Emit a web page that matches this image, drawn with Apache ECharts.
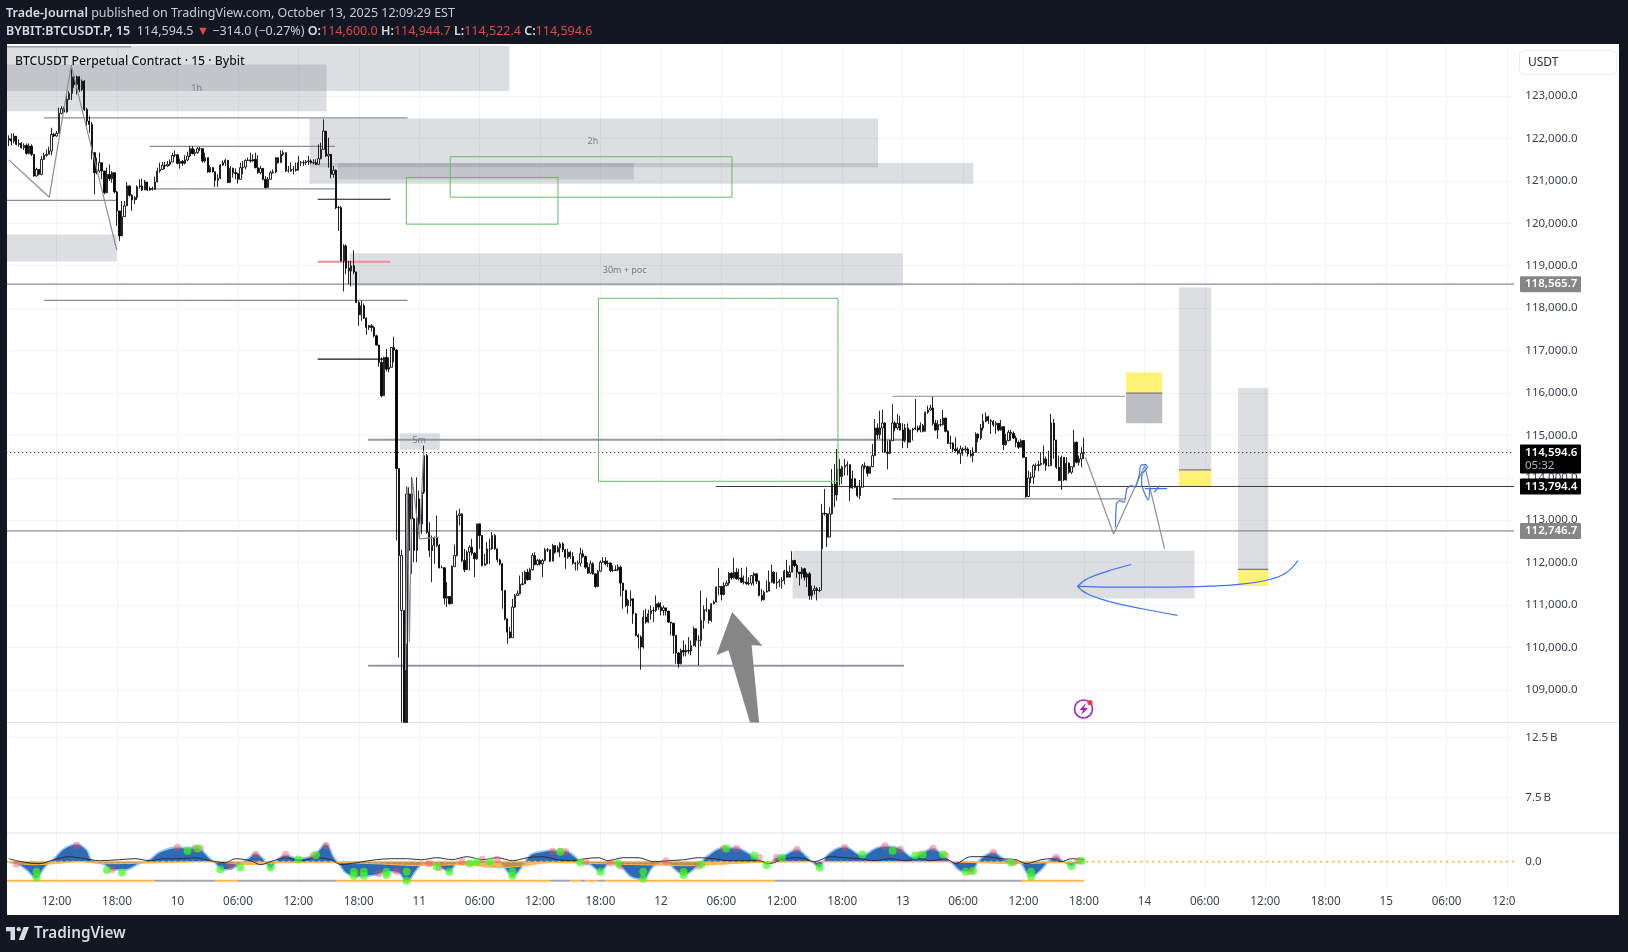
<!DOCTYPE html>
<html>
<head>
<meta charset="utf-8">
<title>BTCUSDT Perpetual Contract</title>
<script src="https://cdn.jsdelivr.net/npm/echarts@6/dist/echarts.min.js"></script>
<style>
html, body { margin: 0; padding: 0; background: #131722; }
#main { width: 1628px; height: 952px; }
</style>
</head>
<body>
<div id="main"></div>
<script>
// 15 minute candles, oct 9 07:15 -> oct 13 18:00
const closes = [
121995,121940,122058,121862,121885,121783,121838,121650,121822,121626,121116,121273,121155,121508,121603,121626,121705,122097,122058,122121,
122592,122702,122623,122922,123063,123455,123275,123455,123157,123353,122686,122411,122333,121666,121195,121234,121430,121234,120723,121155,
121053,121195,120739,120292,119703,120158,120410,120880,120661,120551,120606,120865,120880,120786,120975,120786,120818,120802,120975,121234,
121273,121367,121352,121391,121446,121603,121618,121414,121461,121414,121493,121587,121760,121642,121666,121760,121760,121470,121548,121210,
121312,121218,121014,121061,121375,121430,121485,120959,121297,121195,121171,121038,121312,121328,121485,121493,121470,121509,121312,121195,
121297,121038,120842,121038,121195,121210,121548,121430,121627,121666,121234,121234,121273,121273,121250,121430,121430,121430,121454,121470,
121430,121430,121391,121524,121744,122176,121587,121627,121155,121250,120370,120370,119115,119468,118942,118879,118997,118855,118133,117843,
118055,117764,117545,117584,117545,117348,117128,116720,115935,116838,116563,116603,117073,117011,114216,112167,112167,108230,113619,113619,
113031,112285,113054,112913,113659,114522,112717,112285,112403,112583,112403,111877,111877,111162,111202,111029,111908,112167,113109,113149,
112050,111830,112246,112363,112222,112089,112913,112638,111932,111971,112324,112324,112638,112324,112065,111971,111343,110676,110362,110228,
110950,111225,111264,111484,111500,111775,111594,111830,112167,111955,112050,111971,112050,112301,112301,112034,112403,112246,112348,112442,
112301,112128,112246,112144,111987,111971,111987,112206,112144,111892,111751,111971,111736,111437,111798,112010,112034,111971,111987,111814,
111814,111830,111892,111516,111343,110990,111107,111146,110793,110283,110243,110008,110714,110597,110793,110871,110871,111028,110950,110871,
110934,110856,110597,110573,110283,109867,109616,109930,109890,109930,109914,110047,110440,110165,110165,110636,110887,110887,110636,111028,
111068,111421,111437,111248,111460,111515,111751,111641,111774,111617,111641,111539,111539,111499,111515,111696,111735,111562,111225,111123,
111303,111327,111539,111774,111515,111539,111562,111578,111798,111656,111774,112049,111931,111774,111735,111853,111656,111735,111225,111342,
111382,111342,111342,113164,113149,112599,113149,113855,113596,114208,114028,114248,114287,114310,113761,113973,113777,113580,113777,114279,
114263,114106,114263,114522,115174,115017,115174,115292,114601,114577,114876,115292,115174,115284,115127,114876,115174,114836,115127,115150,
115174,115127,115229,115095,115543,115598,115645,115284,115127,115252,115252,115409,115095,114813,114813,114679,114640,114577,114679,114656,
114679,114561,114522,114601,115032,114938,115174,115331,115441,115347,115331,115252,115284,115127,115205,114781,114876,115072,115048,114938,
114836,114719,114876,114483,113557,113996,114012,114287,114287,114310,114342,114444,114287,114287,115292,114891,114248,113934,114483,113949,
114342,114130,114263,114836,114365,114444,114577,114594.6
];
const highs = [
122074,122121,122121,122058,121980,121917,121885,121885,121885,121862,121626,121312,121273,121587,121666,121744,121807,122254,122137,122176,
122725,122765,122749,123063,123118,123722,123510,123487,123471,123392,123377,122725,122529,122388,121587,121548,121666,121391,121234,121312,
121391,121234,121195,120763,120292,120527,120527,120975,120896,120684,120645,120896,121038,121053,121022,120975,120865,120865,121100,121312,
121430,121446,121446,121469,121508,121666,121720,121587,121524,121493,121603,121689,121823,121823,121744,121799,121799,121768,121666,121548,
121367,121328,121218,121155,121391,121485,121524,121485,121352,121312,121297,121195,121430,121470,121509,121548,121666,121627,121666,121611,
121352,121250,121116,121093,121234,121273,121564,121548,121721,121721,121666,121352,121430,121352,121430,121587,121470,121485,121493,121587,
121509,121509,121509,121862,121901,122451,122176,122019,121603,121352,121273,120410,120410,119507,119507,119115,119115,119366,118840,118173,
118173,118110,117780,117607,117623,117584,117372,117136,116838,116854,117034,116838,117073,117325,117030,114216,112300,110872,113792,113776,
114012,113054,114012,113698,113698,114758,114561,112952,112638,112615,113109,112442,111932,111892,111539,111202,111932,112426,113227,113266,
113149,112324,112285,112403,112560,112246,112913,112913,112638,112206,112481,112560,112717,112677,112324,112089,111987,111343,110637,110480,
111147,111264,111343,111696,111775,111814,111853,111877,112222,112246,112089,112089,112089,112348,112348,112301,112442,112403,112403,112481,
112481,112324,112324,112269,112246,112010,112050,112348,112301,112167,112010,112050,112010,111736,111830,112050,112128,112128,112050,112010,
111932,111932,111955,111932,111484,111359,111147,111342,110989,110809,110322,110283,110871,110911,110887,110989,110950,111225,111068,111068,
110989,110934,110832,110597,110479,110283,109890,109969,110165,110071,110243,110165,110495,110400,110283,111342,110989,111170,110871,111044,
111107,111437,111876,111437,111539,111578,111774,111774,112112,111876,111853,111876,111696,111892,111656,111696,111774,111751,111578,111382,
111342,111578,111813,111955,111798,111774,111617,111656,111829,112065,111931,112269,112065,111970,111774,111892,111876,111774,111774,111460,
111460,111421,111421,113384,113737,113164,113306,114208,114326,114679,114444,114287,114444,114389,114310,114169,113996,113816,113949,114326,
114365,114287,114263,114797,115386,115284,115582,115598,115307,114876,114891,115739,115331,115503,115464,115284,115268,115284,115127,115174,
115857,115229,115307,115268,115566,115700,115723,115912,115362,115362,115386,115598,115409,115127,114993,114836,114954,114719,114758,114719,
114758,114719,114656,114719,115072,115048,115268,115503,115543,115464,115386,115362,115331,115268,115362,115205,115032,115127,115127,115095,
114993,114876,114915,114758,114483,114169,114130,114326,114342,114404,114601,114758,114499,114640,115503,115386,114891,114522,114522,114483,
114483,114365,114263,115127,114860,114522,114719,114944.7
];
const lows = [
121823,121838,121885,121838,121807,121760,121728,121618,121626,121587,121100,121100,121132,121132,121493,121571,121626,121603,122035,122042,
122121,122568,122607,122607,122906,122906,123196,123039,123094,123118,122647,122294,122137,121508,120684,121155,121195,121038,120684,120708,
120998,120959,120708,119938,119585,119703,120158,120410,120629,120292,120449,120551,120818,120763,120786,120763,120771,120771,120786,120975,
121195,121257,121273,121328,121352,121446,121563,121391,121289,121352,121391,121470,121564,121627,121587,121642,121705,121430,121430,121195,
121195,121195,120857,120857,121038,121352,121352,120951,120959,121077,121038,120936,121038,121155,121273,121470,121430,121454,121297,121171,
121155,121014,120826,120842,121038,121171,121179,121407,121430,121587,121210,121195,121218,121155,121218,121250,121352,121352,121375,121375,
121407,121391,121375,121391,121509,121744,121564,121312,121061,121077,120331,119821,119099,118392,118801,118565,118510,118801,118118,117584,
117701,117741,117372,117482,117450,117309,117113,116618,115896,115935,116508,116485,116603,116720,112520,109765,108230,108230,110087,111735,
111735,112010,112010,112677,112677,113619,112677,112128,111539,111971,112363,111861,111877,111013,110950,111013,111029,111892,112144,112874,
112010,111775,111830,111814,112167,111657,112065,112324,111908,111932,111955,111971,112301,112301,112010,111932,110911,110637,110087,110205,
110228,110935,111225,111249,111461,111500,111578,111594,111814,111932,111932,111932,111657,112034,112246,112010,112034,112206,112246,112128,
112246,111853,112089,112089,111955,111814,111814,111908,112112,111853,111736,111736,111712,111406,111422,111775,112002,111932,111892,111775,
111775,111798,111798,111202,110911,110950,110793,110966,110557,110259,109969,109474,109969,110557,110573,110652,110597,110832,110887,110754,
110754,110754,110573,110283,109851,109616,109521,109600,109788,109788,109851,109812,110024,110008,109576,110024,110440,110832,110557,110597,
111013,111068,111225,111107,111225,111437,111460,111594,111617,111594,111578,111515,111484,111476,111460,111460,111460,111499,111201,111091,
111107,111303,111358,111515,111499,111382,111421,111382,111484,111641,111735,111774,111892,111641,111460,111617,111578,111421,111123,111123,
111248,111107,111303,111343,113109,112363,112599,113133,113306,113463,113816,113855,114051,114051,113447,113737,113753,113541,113502,113777,
114208,114028,114091,114248,114522,114915,114915,114601,114585,114200,114561,114876,115095,115127,115111,114703,114836,114703,114836,114876,
115127,115072,115072,115072,115095,115503,115582,115229,115111,114915,115205,115229,115072,114797,114679,114601,114601,114546,114326,114522,
114601,114499,114483,114365,114601,114836,114891,115111,115307,115268,115032,115205,115032,115095,115111,114656,114758,114860,114876,114915,
114719,114679,114719,114467,113525,113541,113871,113855,114169,114153,114287,114310,114169,114263,114287,114444,114208,113918,113714,113918,
113934,114091,114091,114248,114342,114287,114248,114444
];
// opens are the previous close except for these gaps
const gapOpens = { 0: 121960, 157: 110872, 156: 110872, 159: 112285, 163: 113502, 323: 112324 };

// axis ticks
const priceTicks = [109000,110000,111000,112000,113000,114000,115000,116000,117000,118000,119000,120000,121000,122000,123000];
const volumeTicks = [7500000000, 12500000000];
const oscTicks = [0];
const timeLabels = ['12:00','18:00','10','06:00','12:00','18:00','11','06:00','12:00','18:00','12','06:00','12:00','18:00','13','06:00','12:00','18:00','14','06:00','12:00','18:00','15','06:00','12:0\u00a0\u00a0'];
const firstTimeBar = 19;
const barsPerLabel = 24;
const barSlots = 598;

// drawn zones: [barFrom, barTo, priceTop, priceBottom]
const grayZones = [
  [-1,198.8,124300,123122],[-1,126.2,123746,122645],[119.5,345.2,122474,121325],[119.5,383.1,121423,120934],
  [130.7,248.2,121423,121032],[-1,42.9,119736,119100],[135.3,355,119296,118525],[155.3,171.2,115047,114663],
  [311.3,470.9,112278,111153],[464.7,477.5,118489,114186],[488.2,500.2,116117,111838]
];
const darkZones = [[443.7,458.1,115995,115286]];
const yellowZones = [[464.7,477.5,114186,113794],[488.2,500.2,111838,111447],[443.7,458.1,116484,115995]];
const greenZones = [[175.3,287.2,121570,120616],[157.9,218.1,121081,119980],[234.2,329.3,118232,113917]];

// drawn levels: [barFrom, barTo, price]
const thinLevels = [[-1,48.6,124161],[14,158.4,122487],[56,129.5,121814],[56,129.5,120812],[-1,42.9,120543],[14,158.4,118183],
  [350.9,443.3,115922],[350.9,443.3,113500],[-1,598,118565.7],[-1,598,112746.7]];
const thickLevels = [[142.7,355.5,114895],[142.7,355.5,109565]];
const blackLevels = [[122.7,151.6,120567],[122.7,149.3,116799]];
const holdLevels = [[280.8,598,113794.4]];
const redLevels = [[122.7,151.6,119091]];
const boxEdgeLevels = [[464.7,477.5,114186],[488.2,500.2,111838],[443.7,458.1,115995]];
const lastPrice = 114594.6;

// [price, text] tags on the scale
const grayTags = [[118565.7,'118,565.7'],[112746.7,'112,746.7']];
const blackTags = [[113794.4,'113,794.4']];
const zoneNotes = [[74.6,123188,'1h'],[232,121940,'2h'],[244.6,118879,'30m + poc'],[163,114875,'5m']];

// hand drawn paths: [bar, price]
const grayPaths = [
  [[0,121496],[16.1,120616],[24.8,123721],[42.9,119369]],
  [[427.6,114479],[438.8,112672],[451.1,114283],[459,112327]],
  [[157.6,109459],[158.2,113776],[159.1,110126],[160.2,113973],[163.1,112560],[164.8,114640]],
  [[163.1,112560],[170.8,112599]]
];
const bluePaths = [
  [[445.8,111955],[436.5,111798],[428.3,111617],[424.4,111437]],
  [[424.4,111437],[428.3,111264],[436.5,111091],[450.1,110911],[464.1,110754]],
  [[424.4,111437],[437.8,111421],[457,111421],[477.5,111444],[488.4,111484],[500.8,111601],[507.6,111774],[512,112049]],
  [[439.5,112834],[439.9,113383],[441.2,113462],[443,113423],[444,113737],[445.8,113815],[447.4,113776],[449,114090],[449.5,114286],[451.5,114310],[452.2,114247],[450.1,114090],[449.9,113855],[452.6,113478],[453.2,113737]],
  [[451.2,113745],[460,113745]],
  [[454.9,113658],[457,113815]]
];
const bigArrow = [[287.3,110832],[299.3,110040],[295,110048],[298,108222],[294.4,108222],[285.8,109930],[281,109812]];

// oscillator knots: bar and value
const waveBars = [0,3,7,11,14,18,22,27,31,33,38,41,46,52,56,60,67,75,80,82,85,89,92,95,98,101,104,107,110,115,121,126,129,131,134,139,146,151,155,158,162,165,169,173,175,178,183,188,194,198,200,203,207,211,216,219,221,225,227,231,235,239,243,247,252,256,261,264,268,274,277,284,289,294,298,301,305,308,313,317,322,325,332,339,344,348,354,359,367,371,374,379,382,386,391,396,401,406,410,414,416,419,422,426,427];
const waveVals = [0,-1.7,-8.3,-16.7,-6.7,3.3,13.3,17.7,11.7,1.7,-3.3,-8.3,-8.3,-1.7,2.3,10,14.3,13.3,3.3,-1.7,-8.3,-6.7,-1.7,3.3,8.3,3.3,-6.7,3.3,6.7,3.3,6.7,17.7,5,-1.7,-11.7,-15,-13.3,-10,-11.7,-20,-8.3,-1.7,-1.7,-8.3,-10,-1.7,0,0,0,-10,-15,-8.3,6.7,10,11.7,10,11,5,0,-3.3,-10,-1,-5,-15,-17.7,-5,0,-6.7,-13.3,-3.3,5,14.3,14,8.3,1.7,-2.3,4.3,6.7,12.3,5,-5.7,6.7,15,6.7,13.3,15.7,13.3,5,13.3,6.7,0,-10,-10,3.3,9.3,1.7,0,-15,-8.3,3.3,5,0,-4.3,1,0];
const emberBars = [0,10,18,28,38,60,80,95,110,130,145,165,180,195,205,215,235,250,270,280,295,320,372,385,402,415,427];
const emberVals = [-1,-3,-2,0,-2,-1,0,-3,-1,-1,-2,-4,-3,-6,-4,-1,-2,-3,-4,-3,-1,0,0,-1,-2,-1,-1];
const signalBars = [0,5,12,18,24,30,36,44,50,56,62,68,74,80,86,90,96,100,105,110,116,122,128,132,138,146,152,158,164,170,176,182,188,194,200,206,212,218,224,229,234,238,244,250,256,262,268,274,280,286,292,298,302,308,314,320,326,332,338,344,350,356,362,366,372,376,382,388,394,400,404,410,414,418,422,427];
const signalVals = [3,0,-2,2,5,3,1,2,3,1,3,3,4,1,-1,3,1,-3,1,4,1,4,2,-3,-1,2,3,3,2,4,2,5,2,4,1,4,5,2,1,3,4,1,4,4,0,1,2,4,3,1,1,1,-2,3,4,0,5,4,3,1,3,1,3,1,3,-2,5,5,3,2,-2,2,3,0,3,2];
const redDotBars = [3,27,41,67,74,76,88,98,110,121,126,138,147,154,167,171,180,188,194,216,219,221,229,239,243,261,274,284,289,298,305,313,332,348,354,362,367,372,382,391,399,416,425];
const redDotVals = [-2.3,16.3,-7.7,14.3,13.3,13.3,-4.3,7.3,7.3,6.3,16.3,-12.3,-11.7,-9.3,-1.7,-5.7,0,2.3,2.3,10.3,10,10,0,-1,-4.3,0.7,-4.3,13.3,13.3,4.3,4.3,12.3,14.3,15.7,12.3,7.3,13.3,6.3,-10,9.3,-0.7,4.3,1];
const greenDotBars = [11,11,39,45,71,75,84,92,104,115,122,137,137,141,141,150,150,158,158,170,175,183,186,191,200,200,219,227,235,242,252,252,268,268,275,285,296,301,307,322,339,351,360,363,371,380,383,398,406,406,422,426];
const greenDotVals = [-10,-15.7,-8.3,-10.7,11,13.3,-7.7,-5.7,-5.7,2.3,6.7,-10,-14,-10,-14,-10,-13.3,-10,-19,-5,-10,-1.7,0,0,-10,-14,10,-0.7,-10,-1.7,-10,-17,-10,-13.3,-2.7,13.3,6.3,-3.3,4,-5.7,7.3,11,6.3,7.3,7.3,-10,-9,-0.7,-10,-15,-4.3,1];
const stripLevel = -19;
const orangeStrip = [[-1,58],[82,91],[130,215],[223,227],[229,234],[237,304],[402,427]];
const grayStrip = [[58,82],[91,130],[215,223],[227,229],[234,237],[304,402]];

const candleData = closes.map((c, i) => {
  const open = gapOpens[i] !== undefined ? gapOpens[i] : closes[i - 1];
  return [open, c, lows[i], highs[i]];
});
const categories = [];
for (let i = 0; i < barSlots; i++) categories.push(String(i));
const isTimeTick = idx => idx >= firstTimeBar && (idx - firstTimeBar) % barsPerLabel === 0;
const zip = (a, b) => a.map((v, i) => [v, b[i]]);

const uiFont = '"Noto Sans", sans-serif';
const gridColor = '#f0f3fa';
const textColor = '#3b3f4b';

function zoneSeries(rows, style, z) {
  return {
    type: 'custom', xAxisIndex: 3, yAxisIndex: 0, z: z, clip: true, silent: true, data: rows,
    renderItem: function (params, api) {
      const r = rows[params.dataIndex];
      const a = api.coord([r[0], r[2]]);
      const b = api.coord([r[1], r[3]]);
      return { type: 'rect', shape: { x: a[0], y: a[1], width: b[0] - a[0], height: b[1] - a[1] }, style: style };
    }
  };
}
function levelSeries(rows, style, z, xAxisIndex, yAxisIndex, fixedValue) {
  return {
    type: 'custom', xAxisIndex: xAxisIndex === undefined ? 3 : xAxisIndex, yAxisIndex: yAxisIndex || 0, z: z, clip: true, silent: true, data: rows,
    renderItem: function (params, api) {
      const r = rows[params.dataIndex];
      const v = fixedValue !== undefined ? fixedValue : r[2];
      const a = api.coord([r[0], v]);
      const b = api.coord([r[1], v]);
      return { type: 'line', shape: { x1: a[0], y1: a[1], x2: b[0], y2: b[1] }, style: style };
    }
  };
}
function pathSeries(points, color, width, z, smooth) {
  return {
    type: 'line', xAxisIndex: 3, yAxisIndex: 0, z: z, silent: true, showSymbol: false, smooth: smooth, data: points,
    lineStyle: { color: color, width: width }
  };
}
function tagSeries(rows, bg) {
  return {
    type: 'custom', xAxisIndex: 3, yAxisIndex: 0, z: 20, clip: false, silent: true, data: rows,
    renderItem: function (params, api) {
      const r = rows[params.dataIndex];
      const y = api.coord([0, r[0]])[1];
      return {
        type: 'group', children: [
          { type: 'rect', shape: { x: 1520, y: y - 8, width: 61, height: 16, r: 1 }, style: { fill: bg } },
          { type: 'text', style: { x: 1525, y: y, text: r[1], fill: '#fff', font: '600 11.5px ' + uiFont, verticalAlign: 'middle' } }
        ]
      };
    }
  };
}

const series = [
  zoneSeries(grayZones, { fill: 'rgba(120,123,134,0.25)' }, 1),
  zoneSeries(darkZones, { fill: '#bdbec3' }, 1),
  zoneSeries(yellowZones, { fill: '#fff176' }, 1),
  levelSeries(thinLevels, { stroke: '#8b8d95', lineWidth: 1.2 }, 2),
  levelSeries(thickLevels, { stroke: '#9598a1', lineWidth: 2 }, 2),
  levelSeries(blackLevels, { stroke: '#111', lineWidth: 1.2 }, 2),
  levelSeries(holdLevels, { stroke: '#3a3a3a', lineWidth: 1 }, 2),
  levelSeries(redLevels, { stroke: '#f28b95', lineWidth: 2 }, 2),
  levelSeries(boxEdgeLevels, { stroke: '#777982', lineWidth: 1.2 }, 2),
  levelSeries([[-1, 598, lastPrice]], { stroke: '#111', lineWidth: 1, lineDash: [1, 3] }, 2),
  {
    type: 'candlestick', xAxisIndex: 0, yAxisIndex: 0, z: 3, silent: true, data: candleData, barWidth: 1.8, clip: true,
    itemStyle: { color: '#fff', color0: '#000', borderColor: '#000', borderColor0: '#000', borderWidth: 0.85 }
  },
  zoneSeries(greenZones, { fill: 'none', stroke: '#66bb6a', lineWidth: 1 }, 4),
  {
    type: 'custom', xAxisIndex: 3, yAxisIndex: 0, z: 5, clip: true, silent: true, data: [bigArrow[0]],
    renderItem: function (params, api) {
      return { type: 'polygon', shape: { points: bigArrow.map(p => api.coord(p)) }, style: { fill: '#868686' } };
    }
  },
  {
    type: 'custom', xAxisIndex: 3, yAxisIndex: 0, z: 5, clip: true, silent: true, data: zoneNotes,
    renderItem: function (params, api) {
      const r = zoneNotes[params.dataIndex];
      const p = api.coord([r[0], r[1]]);
      return { type: 'text', style: { x: p[0], y: p[1], text: r[2], fill: '#787b86', font: '9px ' + uiFont, align: 'center', verticalAlign: 'middle' } };
    }
  },
  tagSeries(grayTags, '#868686'),
  tagSeries(blackTags, '#000'),
  {
    type: 'custom', xAxisIndex: 3, yAxisIndex: 0, z: 21, clip: false, silent: true, data: [[lastPrice, '114,594.6', '05:32']],
    renderItem: function (params, api) {
      const y = api.coord([0, lastPrice])[1];
      return {
        type: 'group', children: [
          { type: 'rect', shape: { x: 1520, y: y - 8, width: 61, height: 29, r: 1 }, style: { fill: '#000' } },
          { type: 'text', style: { x: 1525, y: y, text: '114,594.6', fill: '#fff', font: '600 11.5px ' + uiFont, verticalAlign: 'middle' } },
          { type: 'text', style: { x: 1525, y: y + 13, text: '05:32', fill: '#b2b5be', font: '11.5px ' + uiFont, verticalAlign: 'middle' } }
        ]
      };
    }
  },
  // oscillator pane
  {
    type: 'line', xAxisIndex: 4, yAxisIndex: 2, z: 2, silent: true, showSymbol: false, smooth: 0.4, data: zip(waveBars, waveVals),
    lineStyle: { color: '#93c7f4', width: 1.6 }, areaStyle: { color: '#2f6bb5', opacity: 1 }
  },
  {
    type: 'line', xAxisIndex: 4, yAxisIndex: 2, z: 3, silent: true, showSymbol: false, smooth: 0.4, data: zip(emberBars, emberVals),
    lineStyle: { color: '#ffb74d', width: 1 }, areaStyle: { color: '#f39c24', opacity: 0.75 }
  },
  {
    type: 'line', xAxisIndex: 4, yAxisIndex: 2, z: 4, silent: true, showSymbol: false, smooth: 0.3, data: zip(signalBars, signalVals),
    lineStyle: { color: '#2a2e39', width: 1 }
  },
  levelSeries([[-1, 598]], { stroke: '#ffb74d', lineWidth: 2, lineDash: [2, 4] }, 3, 4, 2, 0),
  levelSeries(orangeStrip, { stroke: '#ffb74d', lineWidth: 2 }, 3, 4, 2, stripLevel),
  levelSeries(grayStrip, { stroke: '#a3a6af', lineWidth: 2 }, 3, 4, 2, stripLevel),
  {
    type: 'scatter', xAxisIndex: 4, yAxisIndex: 2, z: 5, silent: true, symbolSize: 7.5, data: zip(redDotBars, redDotVals),
    itemStyle: { color: 'rgba(244,67,84,0.5)' }
  },
  {
    type: 'scatter', xAxisIndex: 4, yAxisIndex: 2, z: 6, silent: true, symbolSize: 8, data: zip(greenDotBars, greenDotVals),
    itemStyle: { color: 'rgba(60,250,30,0.85)' }
  }
];
grayPaths.forEach(p => series.push(pathSeries(p, '#8b8d95', 1.2, 4, false)));
bluePaths.forEach((p, i) => series.push(pathSeries(p, '#3f73f0', 1.2, 6, i < 3 ? 0.4 : 0.2)));

const priceSplit = { show: true, lineStyle: { color: gridColor, width: 1 } };
function timeAxis(gridIndex, showLabels) {
  return {
    type: 'category', gridIndex: gridIndex, data: categories, boundaryGap: true,
    axisLine: { show: false }, axisTick: { show: false },
    splitLine: { show: true, alignWithLabel: true, interval: idx => isTimeTick(idx), lineStyle: { color: gridColor } },
    axisLabel: {
      show: showLabels, interval: idx => isTimeTick(idx), margin: 9, color: textColor, fontFamily: uiFont, fontSize: 11.7, hideOverlap: false,
      formatter: (v, idx) => isTimeTick(idx) ? (timeLabels[(idx - firstTimeBar) / barsPerLabel] || '') : ''
    }
  };
}
function hiddenBarAxis(gridIndex) {
  return { type: 'value', gridIndex: gridIndex, show: false, min: -0.5, max: barSlots - 0.5, splitLine: { show: false } };
}
function scaleAxis(gridIndex, min, max, ticks, fmt, split) {
  return {
    type: 'value', gridIndex: gridIndex, position: 'right', min: min, max: max, scale: true,
    axisLine: { show: false }, axisTick: { show: false, customValues: ticks },
    splitLine: split,
    axisLabel: { customValues: ticks, formatter: fmt, margin: 12, color: textColor, fontFamily: uiFont, fontSize: 11.5 }
  };
}

const chart = echarts.init(document.getElementById('main'));
chart.setOption({
  animation: false,
  backgroundColor: '#131722',
  tooltip: { show: false },
  title: [
    {
      left: 6, top: 7, padding: 0,
      text: '{b|Trade-Journal} published on TradingView.com, October 13, 2025 12:09:29 EST',
      textStyle: { color: '#c8ccd6', fontFamily: uiFont, fontSize: 12.5, fontWeight: 'normal', rich: { b: { color: '#d8dbe3', fontFamily: uiFont, fontSize: 12.5, fontWeight: 600 } } }
    },
    {
      left: 6, top: 25, padding: 0,
      text: '{w|BYBIT:BTCUSDT.P, 15}  114,594.5 {r|\u25BC} \u2212314.0 (\u22120.27%) {w|O:}{r|114,600.0} {w|H:}{r|114,944.7} {w|L:}{r|114,522.4} {w|C:}{r|114,594.6}',
      textStyle: {
        color: '#c8ccd6', fontFamily: uiFont, fontSize: 12.5, fontWeight: 'normal',
        rich: {
          w: { color: '#d8dbe3', fontFamily: uiFont, fontSize: 12.5, fontWeight: 600 },
          r: { color: '#e2474c', fontFamily: uiFont, fontSize: 12.5 }
        }
      }
    },
    {
      left: 15, top: 56, padding: 0, z: 30,
      text: 'BTCUSDT Perpetual Contract \u00b7 15 \u00b7 Bybit',
      textStyle: { color: '#131722', fontFamily: uiFont, fontSize: 12.2, fontWeight: 500 }
    }
  ],
  grid: [
    { left: 7.5, top: 45.8, width: 1505.8, height: 677 },
    { left: 7.5, top: 722.8, width: 1505.8, height: 110.2 },
    { left: 7.5, top: 833, width: 1505.8, height: 54 }
  ],
  xAxis: [timeAxis(0, false), timeAxis(1, false), timeAxis(2, true), hiddenBarAxis(0), hiddenBarAxis(2)],
  yAxis: [
    scaleAxis(0, 108222, 124186, priceTicks, v => v.toLocaleString('en-US', { minimumFractionDigits: 1 }), priceSplit),
    scaleAxis(1, 4525000000, 13750000000, volumeTicks, v => (v / 1e9).toFixed(1) + '\u2009B', priceSplit),
    scaleAxis(2, -25.3, 28.7, oscTicks, v => v.toFixed(1), { show: false })
  ],
  series: series,
  graphic: [
    { type: 'rect', z: -10, silent: true, shape: { x: 7, y: 44, width: 1612, height: 871 }, style: { fill: '#fff' } },
    { type: 'line', z: 1, silent: true, shape: { x1: 7, y1: 722.5, x2: 1619, y2: 722.5 }, style: { stroke: '#e0e3eb', lineWidth: 1 } },
    { type: 'line', z: 1, silent: true, shape: { x1: 7, y1: 833, x2: 1619, y2: 833 }, style: { stroke: '#e0e3eb', lineWidth: 1 } },
    { type: 'rect', z: 30, silent: true, shape: { x: 1519.5, y: 50.5, width: 97, height: 24, r: 4 }, style: { fill: '#fff', stroke: '#e9ebf1', lineWidth: 1 } },
    { type: 'text', z: 31, silent: true, style: { x: 1528, y: 63, text: 'USDT', fill: '#2a2e39', font: '12px ' + uiFont, verticalAlign: 'middle' } },
    // publish logo
    { type: 'polygon', z: 31, silent: true, shape: { points: [[6, 927], [15, 927], [15, 940], [10.5, 940], [10.5, 931.3], [6, 931.3]] }, style: { fill: '#d8dbe3' } },
    { type: 'polygon', z: 31, silent: true, shape: { points: [[23.9, 940], [18.8, 940], [23.6, 927], [29, 927]] }, style: { fill: '#d8dbe3' } },
    { type: 'circle', z: 31, silent: true, shape: { cx: 18.8, cy: 929.2, r: 2.1 }, style: { fill: '#d8dbe3' } },
    { type: 'text', z: 31, silent: true, style: { x: 34, y: 934, text: 'TradingView', fill: '#d8dbe3', font: '600 15.3px ' + uiFont, verticalAlign: 'middle' } },
    // snapshot marker
    { type: 'circle', z: 31, silent: true, shape: { cx: 1083.5, cy: 709, r: 9 }, style: { fill: '#fff', stroke: '#9c27b0', lineWidth: 1.6 } },
    { type: 'polygon', z: 32, silent: true, shape: { points: [[1086, 703], [1079.5, 710], [1083, 710], [1081, 715], [1088, 708], [1084, 708]] }, style: { fill: '#9c27b0' } },
    { type: 'circle', z: 33, silent: true, shape: { cx: 1090, cy: 702.5, r: 2.6 }, style: { fill: '#f23645' } }
  ]
});
</script>
</body>
</html>
